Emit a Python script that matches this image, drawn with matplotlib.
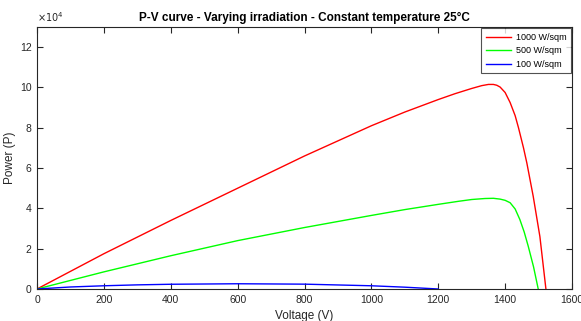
import numpy as np
import matplotlib
matplotlib.use("Agg")
import matplotlib.pyplot as plt

plt.rcParams['font.family'] = ['Liberation Sans', 'DejaVu Sans']

# values (V in volts, P in watts)
v_1000 = [0, 200, 400, 600, 800, 1000, 1100, 1200, 1250, 1300, 1330, 1350, 1365,
          1375, 1385, 1400, 1415, 1430, 1440, 1455, 1465, 1484, 1504, 1522]
p_1000 = [0, 17500, 34000, 50000, 66000, 81000, 87800, 94000, 96900, 99500,
          100900, 101500, 101500, 101100, 100200, 97500, 92500, 86000, 80000,
          70000, 62500, 46000, 26000, 0]

v_500 = [0, 200, 400, 600, 800, 1000, 1100, 1200, 1260, 1300, 1340, 1365, 1385,
         1400, 1415, 1430, 1444, 1457, 1469, 1485, 1499]
p_500 = [0, 8500, 16500, 24000, 30500, 36500, 39400, 42000, 43500, 44400, 44900,
         45000, 44600, 44000, 42800, 39700, 34500, 28300, 21300, 11000, 0]

v_100 = [0, 100, 200, 300, 400, 600, 800, 1000, 1100, 1200]
p_100 = [0, 1000, 1600, 2050, 2350, 2600, 2400, 1600, 900, 0]

xticks = [0, 200, 400, 600, 800, 1000, 1200, 1400, 1600]
yticks = [0, 2e4, 4e4, 6e4, 8e4, 10e4, 12e4]

fig = plt.figure(figsize=(5.81, 3.21), dpi=100)
ax = fig.add_axes([0.0637, 0.0997, 0.9208, 0.8162])

ax.plot(v_1000, p_1000, color='#ff0000', lw=1.0, label='1000 W/sqm')
ax.plot(v_500, p_500, color='#00ff00', lw=1.0, label='500 W/sqm')
ax.plot(v_100, p_100, color='#0000ff', lw=1.0, label='100 W/sqm')

ax.set_xlim(0, 1600)
ax.set_ylim(0, 1.3e5)
ax.set_xticks(xticks)
ax.set_yticks(yticks)
ax.set_yticklabels([str(int(t / 1e4)) for t in yticks])
ax.tick_params(direction='in', length=4, width=0.8, labelsize=7.5,
               colors='#262626', top=True, right=True, pad=4)
for s in ax.spines.values():
    s.set_color('#262626')
    s.set_linewidth(0.8)

ax.text(0.0, 1.012, r'$\times10^4$', transform=ax.transAxes, fontsize=7,
        color='#262626', ha='left', va='bottom')

ax.set_title('P-V curve - Varying irradiation - Constant temperature 25°C',
             fontsize=8.5, fontweight='bold', pad=4)
ax.set_xlabel('Voltage (V)', fontsize=8.5, color='#262626', labelpad=4)
ax.set_ylabel('Power (P)', fontsize=8.5, color='#262626', labelpad=3)

leg = ax.legend(loc='upper right', fontsize=6.5, frameon=True, fancybox=False,
                edgecolor='#262626', borderaxespad=0.15, handlelength=2.8,
                labelspacing=0.5, borderpad=0.5, handletextpad=0.5)
leg.get_frame().set_linewidth(0.8)

fig.savefig('out.png', dpi=100)
